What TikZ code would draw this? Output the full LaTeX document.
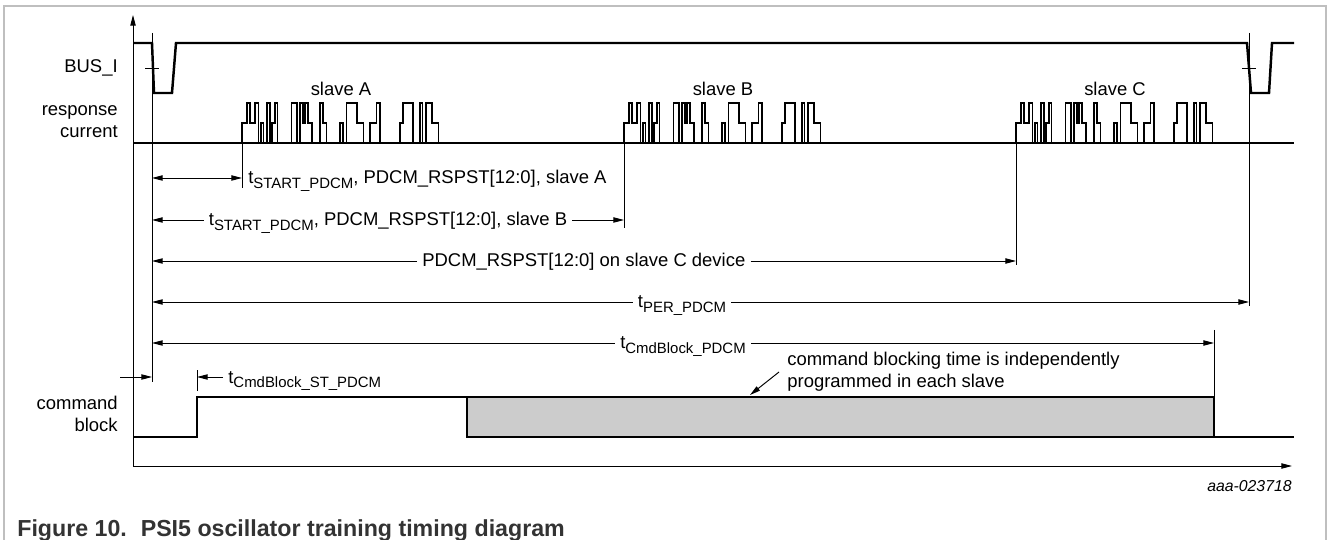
\documentclass[tikz,border=0pt]{standalone}
\usepackage{fontspec}
\setmainfont{Liberation Sans}
\usetikzlibrary{arrows.meta}

\newcommand{\subtext}[1]{\raisebox{-0.5ex}{\fontsize{8.5}{9}\selectfont #1}}

\tikzset{
  wave/.style={black, line width=1.4pt},
  pulse/.style={black, line width=0.8pt},
  thinline/.style={black, line width=0.55pt},
  tip/.style={-{Triangle[length=6pt,width=3pt]}},
  dimline/.style={thinline, {Triangle[length=6pt,width=3pt]}-{Triangle[length=6pt,width=3pt]}},
  gaplabel/.style={inner xsep=0.1cm},
  frame/.style={draw=black!25, line width=1pt}
}

\begin{document}
\begin{tikzpicture}[x=0.02cm, y=0.02cm, font=\fontsize{10.5}{12.5}\selectfont]
\tikzstyle{every node}+=[inner sep=0pt]
\useasboundingbox (0,0) rectangle (1328,-540);
\draw [frame] (4,-540) -- (4,-6) -- (1326,-6) -- (1326,-540);

\coordinate (org) at (133,-466);
\coordinate (ytop) at (133,-15);
\coordinate (xend) at (1292,-466);
\draw [thinline, tip] (org) -- (ytop);
\draw [thinline, tip] (org) -- (xend);

\draw [thinline] (152,-33) -- (152,-382);
\draw [thinline] (1249,-33) -- (1249,-306);
\draw [thinline] (145,-68) -- (159,-68);
\draw [thinline] (1242,-68) -- (1256,-68);
\draw [thinline] (242,-143) -- (242,-188);
\draw [thinline] (624,-143) -- (624,-228);
\draw [thinline] (1016,-143) -- (1016,-265);
\draw [thinline] (1214,-330) -- (1214,-397);
\draw [thinline] (197,-370) -- (197,-391);

\draw (118,-68) node [anchor=east] (busl) {BUS\_I};
\draw (118,-122) node [anchor=east, align=right] (respl) {response\\current};
\draw (118,-414) node [anchor=east, align=right] (cmdl) {command\\block};

\draw [wave] (133,-43) -- (152,-43) -- (154,-93) -- (172,-93) -- (176,-43) -- (1247,-43) -- (1251,-93) -- (1269,-93) -- (1272,-43) -- (1294,-43);

\draw [pulse] (133,-143) -- (1294,-143);
\foreach \s in {242,624,1016}
  \draw [pulse] (\s,-143) \foreach \dx/\lv in {0/-123, 5/-103, 8/-123, 13/-103, 16.5/-143, 19/-123, 21.5/-143, 25/-103, 28/-143, 30/-123, 33/-103, 35.5/-143, 49.5/-103, 55/-143, 58/-103, 61/-123, 63/-103, 66/-123, 70/-143, 78/-103, 81/-123, 84.5/-143, 98/-123, 101/-143, 104.7/-103, 115/-123, 121.7/-143, 128/-123, 134.7/-103, 138/-143, 158/-123, 161/-103, 171/-143, 178/-103, 180.7/-143, 184/-103, 190/-123, 196.7/-143} { -| (\s+\dx,\lv) };

\draw (341,-89) node (slA) {slave A};
\draw (723,-89) node (slB) {slave B};
\draw (1115,-89) node (slC) {slave C};

\coordinate (a0) at (152,-178);
\coordinate (a1) at (242,-178);
\draw [dimline] (a0) -- (a1);
\draw (248,-184) node [anchor=base west] (lA) {t\subtext{START\_PDCM}, PDCM\_RSPST[12:0], slave A};

\coordinate (b0) at (152,-220);
\coordinate (b1) at (624,-220);
\draw (388,-226) node [anchor=base, gaplabel] (lB) {t\subtext{START\_PDCM}, PDCM\_RSPST[12:0], slave B};
\draw [thinline, tip] (lB.west |- b0) -- (b0);
\draw [thinline, tip] (lB.east |- b1) -- (b1);

\coordinate (c0) at (152,-261);
\coordinate (c1) at (1016,-261);
\draw (417,-267) node [anchor=base west, gaplabel] (lC) {PDCM\_RSPST[12:0] on slave C device};
\draw [thinline, tip] (lC.west |- c0) -- (c0);
\draw [thinline, tip] (lC.east |- c1) -- (c1);

\coordinate (p0) at (152,-302);
\coordinate (p1) at (1249,-302);
\draw (682,-308) node [anchor=base, gaplabel] (lper) {t\subtext{PER\_PDCM}};
\draw [thinline, tip] (lper.west |- p0) -- (p0);
\draw [thinline, tip] (lper.east |- p1) -- (p1);

\coordinate (k0) at (152,-343);
\coordinate (k1) at (1214,-343);
\draw (683,-349) node [anchor=base, gaplabel] (lcmd) {t\subtext{CmdBlock\_PDCM}};
\draw [thinline, tip] (lcmd.west |- k0) -- (k0);
\draw [thinline, tip] (lcmd.east |- k1) -- (k1);

\coordinate (s0) at (152,-377);
\coordinate (sl) at (120,-377);
\coordinate (s1) at (197,-377);
\draw [thinline, tip] (sl) -- (s0);
\draw (223,-383) node [anchor=base west, gaplabel] (lcst) {t\subtext{CmdBlock\_ST\_PDCM}};
\draw [thinline, tip] (lcst.west |- s1) -- (s1);

\draw (787,-372) node [anchor=west, align=left] (note) {command blocking time is independently\\programmed in each slave};
\coordinate (nt) at (779,-372);
\coordinate (nh) at (750,-395);
\draw [thinline, tip] (nt) -- (nh);

\draw [wave] (133,-437) -- (197,-437) -- (197,-397) -- (467,-397);
\draw [wave, fill=black!20] (467,-397) rectangle (1214,-437);
\draw [wave] (1214,-437) -- (1294,-437);

\draw (1292,-491) node [anchor=base east, font=\itshape\fontsize{9}{10}\selectfont] (aaa) {aaa-023718};
\draw (17,-536) node [anchor=base west, text=black!80, font=\bfseries\fontsize{13.2}{15}\selectfont] (cap) {Figure 10.\hspace{0.6em}PSI5 oscillator training timing diagram};
\end{tikzpicture}
\end{document}
